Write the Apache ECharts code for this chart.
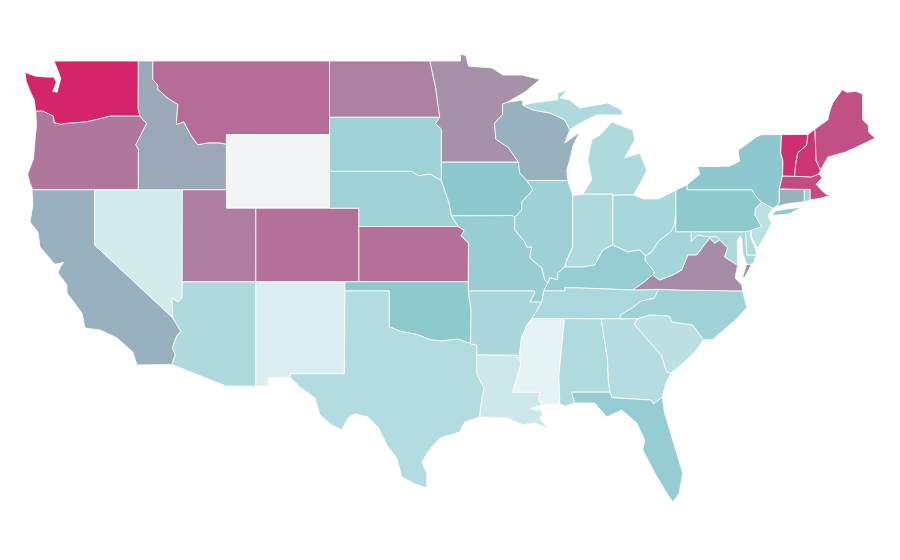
<!DOCTYPE html>
<html><head><meta charset="utf-8">
<style>html,body{margin:0;background:#fff}#c{width:900px;height:560px}</style>
<script src="https://cdn.jsdelivr.net/npm/echarts@6/dist/echarts.min.js"></script>
</head><body><div id="c"></div>
<script>
const stateNames=['Washington','Oregon','California','Nevada','Idaho','Montana','Wyoming','Utah','Arizona','Colorado','New Mexico','North Dakota','South Dakota','Nebraska','Kansas','Oklahoma','Texas','Minnesota','Iowa','Missouri','Arkansas','Louisiana','Wisconsin','Illinois','Mississippi','Michigan','Indiana','Ohio','Kentucky','Tennessee','Alabama','Georgia','Florida','South Carolina','North Carolina','Virginia','West Virginia','Maryland','Delaware','New Jersey','Pennsylvania','New York','Connecticut','Rhode Island','Massachusetts','Vermont','New Hampshire','Maine'];
const stateValues=[98,74,57,20,60,77,0,72,36,76,17,71,42,42,76,49,34,67,50,45,38,23,57,43,12.5,36,36,38.5,46,37.5,35.5,33,46,30,42,68,39.5,37.5,35.5,30,49,50,57,42,87,95,93,85];
const colorStops=['#f3f4f6','#e5f3f4','#c8e6e9','#aad8dc','#8cc8cd','#9fa0b3','#b2739a','#c54880','#d81e63'];
const stateShapes={
Washington:[[[-122.76,49],[-117.03,49],[-117.04,46.42],[-116.92,46],[-118.98,46],[-119.3,45.93],[-120.5,45.7],[-121.2,45.65],[-122,45.6],[-122.3,45.55],[-122.76,45.65],[-122.8,46],[-123.2,46.15],[-123.5,46.27],[-124,46.27],[-124.07,46.7],[-124.1,46.9],[-124.35,47.3],[-124.65,47.9],[-124.73,48.38],[-124,48.17],[-123.1,48.12],[-122.78,48.13],[-122.6,47.85],[-122.85,47.35],[-122.55,47.3],[-122.42,47.7],[-122.3,48.05],[-122.5,48.5]]],
Oregon:[[[-124,46.27],[-123.5,46.27],[-123.2,46.15],[-122.8,46],[-122.76,45.65],[-122.3,45.55],[-122,45.6],[-121.2,45.65],[-120.5,45.7],[-119.3,45.93],[-118.98,46],[-116.92,46],[-116.47,45.6],[-116.85,45],[-117.2,44.45],[-117.03,44.2],[-117.03,42],[-124.21,42],[-124.4,42.4],[-124.55,42.84],[-124.15,43.7],[-124.05,44.7],[-123.95,45.5]]],
California:[[[-124.25,42],[-120,42],[-120,39],[-114.68,35.03],[-114.14,34.3],[-114.43,34.05],[-114.72,33.4],[-114.52,33.03],[-114.75,32.5],[-117.13,32.48],[-117.4,33.18],[-118.48,33.95],[-119.64,34.38],[-120.66,34.49],[-120.86,35.3],[-121.88,36.39],[-121.88,36.83],[-122.49,37.48],[-122.35,37.75],[-122.3,37.85],[-122.1,38.05],[-122.7,37.95],[-123.71,38.89],[-123.85,39.7],[-124.39,40.25],[-124.19,41.17]]],
Nevada:[[[-120,42],[-114.04,42],[-114.05,37],[-114.07,36.12],[-114.34,35.9],[-114.75,36.12],[-114.68,35.03],[-120,39]]],
Idaho:[[[-117.03,49],[-116.05,49],[-116.05,48],[-115.72,47.7],[-115.7,47.45],[-114.95,46.93],[-114.35,46.65],[-114.45,45.55],[-113.95,45.7],[-113.45,44.95],[-113,44.45],[-112.3,44.55],[-111.5,44.55],[-111.05,44.47],[-111.05,42],[-114.04,42],[-117.03,42],[-117.03,44.2],[-117.2,44.45],[-116.85,45],[-116.47,45.6],[-116.92,46],[-117.04,46.42]]],
Montana:[[[-116.05,49],[-104.05,49],[-104.05,45.94],[-104.05,45],[-111.05,45],[-111.05,44.47],[-111.5,44.55],[-112.3,44.55],[-113,44.45],[-113.45,44.95],[-113.95,45.7],[-114.45,45.55],[-114.35,46.65],[-114.95,46.93],[-115.7,47.45],[-115.72,47.7],[-116.05,48]]],
Wyoming:[[[-111.05,45],[-104.05,45],[-104.05,43],[-104.05,41],[-102.05,41],[-109.05,41],[-111.05,41],[-111.05,42],[-111.05,44.47]]],
Utah:[[[-114.04,42],[-111.05,42],[-111.05,41],[-109.05,41],[-109.05,37],[-114.05,37]]],
Arizona:[[[-114.05,37],[-109.05,37],[-109.05,31.33],[-111.07,31.33],[-114.75,32.5],[-114.52,33.03],[-114.72,33.4],[-114.43,34.05],[-114.14,34.3],[-114.68,35.03],[-114.75,36.12],[-114.34,35.9],[-114.07,36.12]]],
Colorado:[[[-109.05,41],[-102.05,41],[-102.05,40],[-102.05,37],[-103,37],[-109.05,37]]],
'New Mexico':[[[-109.05,37],[-103,37],[-103,36.5],[-103.04,32],[-106.7,32],[-106.7,31.78],[-108.21,31.78],[-108.21,31.33],[-109.05,31.33]]],
'North Dakota':[[[-104.05,49],[-97.23,49],[-96.85,47.6],[-96.56,45.94],[-104.05,45.94]]],
'South Dakota':[[[-104.05,45.94],[-96.56,45.94],[-96.85,45.6],[-96.45,45.3],[-96.45,43.5],[-96.45,42.49],[-97.2,42.85],[-98,42.77],[-98.5,43],[-104.05,43],[-104.05,45]]],
Nebraska:[[[-104.05,43],[-98.5,43],[-98,42.77],[-97.2,42.85],[-96.45,42.49],[-96.1,41.7],[-95.9,41.2],[-95.77,40.58],[-95.31,40],[-102.05,40],[-102.05,41],[-104.05,41]]],
Kansas:[[[-102.05,40],[-95.31,40],[-94.9,39.8],[-95.1,39.5],[-94.61,39.1],[-94.62,37],[-102.05,37]]],
Oklahoma:[[[-103,37],[-102.05,37],[-94.62,37],[-94.62,36.5],[-94.43,35.4],[-94.48,33.64],[-95.3,33.88],[-96.5,33.78],[-97.2,33.85],[-98.1,34.13],[-99.2,34.3],[-100,34.56],[-100,36.5],[-103,36.5]]],
Texas:[[[-106.7,32],[-103.04,32],[-103,36.5],[-100,36.5],[-100,34.56],[-99.2,34.3],[-98.1,34.13],[-97.2,33.85],[-96.5,33.78],[-95.3,33.88],[-94.48,33.64],[-94.04,33.55],[-94.04,33.02],[-94.04,31.99],[-93.55,31.2],[-93.75,30.4],[-93.85,29.65],[-94.86,29.38],[-95.2,28.84],[-96.56,28.51],[-97.37,27.75],[-97.78,27.2],[-97.44,26.6],[-97.44,25.79],[-98.25,26.01],[-99.14,26.39],[-99.48,27.42],[-100.15,28.13],[-100.76,29.11],[-101.44,29.65],[-102.33,29.82],[-102.8,29.6],[-103.21,28.95],[-103.89,29.22],[-104.7,29.76],[-105.04,30.68],[-106.06,31.28],[-106.7,31.78]]],
Minnesota:[[[-97.23,49],[-95.15,49],[-95.15,49.38],[-94.8,49.3],[-94.6,48.72],[-93,48.62],[-92.28,48.24],[-90.98,48.24],[-89.75,48],[-90.8,47.3],[-92,46.75],[-92.3,46.65],[-92.29,46.1],[-92.85,45.6],[-92.75,44.75],[-91.9,44.3],[-91.22,43.5],[-96.45,43.5],[-96.45,45.3],[-96.85,45.6],[-96.56,45.94],[-96.85,47.6]]],
Iowa:[[[-96.45,43.5],[-91.22,43.5],[-91.13,42.91],[-90.64,42.5],[-90.24,41.99],[-90.99,41.34],[-90.99,40.9],[-91.46,40.52],[-91.7,40.6],[-95.77,40.58],[-95.9,41.2],[-96.1,41.7],[-96.45,42.49]]],
Missouri:[[[-95.77,40.58],[-91.7,40.6],[-91.46,40.52],[-91.46,39.82],[-90.79,39.16],[-90.65,38.89],[-90.31,38.89],[-90.45,38.3],[-89.63,37.75],[-89.43,37.1],[-89.22,36.93],[-89.5,36.5],[-89.63,35.9],[-90.44,35.9],[-90.1,36.4],[-90.15,36.5],[-94.62,36.5],[-94.62,37],[-94.61,39.1],[-95.1,39.5],[-94.9,39.8],[-95.31,40]]],
Arkansas:[[[-94.62,36.5],[-90.15,36.5],[-90.1,36.4],[-90.44,35.9],[-89.63,35.9],[-90.24,35.03],[-90.3,35],[-90.6,34.7],[-91,34],[-91.15,33],[-94.04,33.02],[-94.04,33.55],[-94.48,33.64],[-94.43,35.4]]],
Louisiana:[[[-94.04,33.02],[-91.15,33],[-91.05,32.5],[-91.6,31],[-89.73,31],[-89.85,30.65],[-89.63,30.3],[-90.45,30.1],[-89.65,30],[-89.57,29.76],[-89.77,29.6],[-89.23,29.05],[-90.1,29.33],[-90.92,29.22],[-92,29.6],[-93.85,29.65],[-93.75,30.4],[-93.55,31.2],[-94.04,31.99]]],
Wisconsin:[[[-92,46.75],[-90.92,46.88],[-90.92,46.6],[-90.24,46.34],[-89.07,46.17],[-88.07,45.8],[-87.73,45.25],[-88.07,44.54],[-87.05,45.14],[-87.5,44.4],[-87.73,43.62],[-87.93,43.08],[-87.87,42.5],[-90.64,42.5],[-91.13,42.91],[-91.22,43.5],[-91.9,44.3],[-92.75,44.75],[-92.85,45.6],[-92.29,46.1],[-92.3,46.65]]],
Illinois:[[[-90.64,42.5],[-87.87,42.5],[-87.53,41.7],[-87.53,38.89],[-87.93,38.18],[-88.07,37.8],[-88.55,37.48],[-88.55,37.1],[-89.09,37.21],[-89.22,36.93],[-89.43,37.1],[-89.63,37.75],[-90.45,38.3],[-90.31,38.89],[-90.65,38.89],[-90.79,39.16],[-91.46,39.82],[-91.46,40.52],[-90.99,40.9],[-90.99,41.34],[-90.24,41.99]]],
Mississippi:[[[-91.15,33],[-91,34],[-90.6,34.7],[-90.3,35],[-88.2,35],[-88.1,34.9],[-88.47,31.9],[-88.4,30.35],[-88.9,30.38],[-89.63,30.3],[-89.85,30.65],[-89.73,31],[-91.6,31],[-91.05,32.5]]],
Michigan:[[[-86.85,41.76],[-84.8,41.76],[-84.8,41.7],[-83.45,41.73],[-83.32,41.83],[-82.9,42.4],[-82.5,43.08],[-82.98,44],[-84,43.73],[-83.32,44.71],[-83.45,45.25],[-84.88,45.68],[-85.35,45.25],[-85.69,44.98],[-86.24,44.71],[-86.51,43.62],[-86.24,42.53]],[[-90.24,46.72],[-89,46.85],[-88.55,46.88],[-88.55,47.26],[-87.87,47.42],[-88.4,46.99],[-87.73,46.88],[-87.05,46.45],[-85.15,46.72],[-84.2,46.34],[-84.13,46.07],[-85.9,46.07],[-86.57,45.8],[-87.25,45.52],[-87.73,45.25],[-88.07,45.8],[-89.07,46.17],[-90.24,46.34],[-90.92,46.6]]],
Indiana:[[[-87.53,41.7],[-86.85,41.76],[-84.8,41.76],[-84.8,41.7],[-84.81,39],[-85.49,38.73],[-86.03,37.91],[-86.85,37.8],[-88.07,37.8],[-87.93,38.18],[-87.53,38.89]]],
Ohio:[[[-84.8,41.7],[-83.45,41.73],[-82.7,41.5],[-81.7,41.5],[-80.52,41.98],[-80.52,40.64],[-80.65,40],[-80.9,39.7],[-81.7,39.2],[-82.2,38.6],[-82.6,38.4],[-82.98,38.73],[-83.8,38.62],[-84.81,39]]],
Kentucky:[[[-89.22,36.93],[-89.09,37.21],[-88.55,37.1],[-88.55,37.48],[-88.07,37.8],[-86.85,37.8],[-86.03,37.91],[-85.49,38.73],[-84.81,39],[-83.8,38.62],[-82.98,38.73],[-82.6,38.4],[-82.6,38.15],[-81.97,37.54],[-82.1,37.37],[-82.77,36.93],[-83.46,36.55],[-86.5,36.65],[-88.07,36.68],[-88.05,36.5],[-89.5,36.5]]],
Tennessee:[[[-89.5,36.5],[-88.05,36.5],[-88.07,36.68],[-86.5,36.65],[-83.46,36.55],[-81.68,36.59],[-82,36.1],[-82.9,35.95],[-83.5,35.57],[-84.3,35.2],[-84.32,34.99],[-85.6,34.98],[-88.2,35],[-90.3,35],[-90.24,35.03],[-89.63,35.9]]],
Alabama:[[[-88.2,35],[-85.6,34.98],[-85.18,32.87],[-85.1,31.55],[-85,31],[-87.6,31],[-87.4,30.41],[-88,30.25],[-88.4,30.35],[-88.47,31.9],[-88.1,34.9]]],
Georgia:[[[-85.6,34.98],[-84.32,34.99],[-83.1,35],[-83.35,34.7],[-82.55,33.95],[-81.5,33],[-81.15,32.1],[-80.85,32.05],[-81.2,31.5],[-81.45,30.72],[-82.05,30.36],[-82.2,30.57],[-84.86,30.7],[-85,31],[-85.1,31.55],[-85.18,32.87]]],
Florida:[[[-87.6,31],[-85,31],[-84.86,30.7],[-82.2,30.57],[-82.05,30.36],[-81.45,30.72],[-81.3,29.9],[-80.74,28.4],[-80.06,26.6],[-80.3,25.5],[-80.73,25.03],[-81.14,25.5],[-81.96,26.61],[-82.77,27.86],[-82.64,28.4],[-83.18,29.33],[-84.2,30.03],[-85.22,29.65],[-86.04,30.41],[-87.4,30.41]]],
'South Carolina':[[[-83.1,35],[-82.3,35.2],[-81.05,35.15],[-80.93,35.1],[-80.8,34.82],[-79.38,34.65],[-78.65,33.86],[-79.2,33.2],[-80,32.6],[-80.85,32.05],[-81.15,32.1],[-81.5,33],[-82.55,33.95],[-83.35,34.7]]],
'North Carolina':[[[-84.32,34.99],[-84.3,35.2],[-83.5,35.57],[-82.9,35.95],[-82,36.1],[-81.68,36.59],[-80.3,36.55],[-75.99,36.5],[-75.7,35.6],[-76.5,34.9],[-76.9,34.65],[-78,33.87],[-78.65,33.86],[-79.38,34.65],[-80.8,34.82],[-80.93,35.1],[-81.05,35.15],[-82.3,35.2],[-83.1,35]]],
Virginia:[[[-83.46,36.55],[-81.68,36.59],[-80.3,36.55],[-75.99,36.5],[-76.05,36.83],[-76.5,37.2],[-76.33,37.9],[-77.21,38.35],[-77,38.84],[-77.55,39.27],[-77.89,39.1],[-78.23,39.38],[-79.11,38.46],[-79.72,38.46],[-80.13,37.64],[-80.74,37.37],[-81.62,37.1],[-82.1,37.37],[-82.77,36.93]],[[-75.38,37.95],[-75.72,37.95],[-76,37.2],[-75.85,37.25]]],
'West Virginia':[[[-80.52,40.64],[-80.52,39.72],[-79.48,39.72],[-79.48,39.2],[-79.04,39.54],[-78.36,39.45],[-77.75,39.45],[-77.55,39.27],[-77.89,39.1],[-78.23,39.38],[-79.11,38.46],[-79.72,38.46],[-80.13,37.64],[-80.74,37.37],[-81.62,37.1],[-82.1,37.37],[-81.97,37.54],[-82.6,38.15],[-82.6,38.4],[-82.2,38.6],[-81.7,39.2],[-80.9,39.7],[-80.65,40]]],
Maryland:[[[-79.48,39.72],[-75.79,39.72],[-75.7,38.46],[-75.05,38.45],[-75.25,38.03],[-75.38,37.95],[-75.72,37.95],[-76,38.6],[-76.05,39.3],[-76.15,39.5],[-76.35,39.2],[-76.35,38.5],[-76.33,37.9],[-77.21,38.35],[-77,38.84],[-77.55,39.27],[-77.75,39.45],[-78.36,39.45],[-79.04,39.54],[-79.48,39.2]]],
Delaware:[[[-75.79,39.72],[-75.4,39.8],[-75.5,39.5],[-75.1,38.8],[-75.05,38.45],[-75.7,38.46]]],
'New Jersey':[[[-74.7,41.33],[-73.95,41],[-74.25,40.6],[-74.02,40.2],[-74.36,39.65],[-74.97,38.8],[-75.38,39.43],[-75.4,39.8],[-74.7,40],[-75.17,40.63],[-75.13,40.98]]],
Pennsylvania:[[[-80.52,41.98],[-79.76,42.27],[-79.76,42],[-75.35,42],[-75.05,41.6],[-74.7,41.33],[-75.13,40.98],[-75.17,40.63],[-74.7,40],[-75.4,39.8],[-75.79,39.72],[-79.48,39.72],[-80.52,39.72],[-80.52,40.64]]],
'New York':[[[-79.76,42.27],[-78.9,42.85],[-79.05,43.27],[-77.5,43.27],[-76.85,43.29],[-76.2,43.55],[-76.3,44.15],[-75.05,44.87],[-74.7,45],[-73.35,45],[-73.4,44],[-73.25,43.55],[-73.28,42.75],[-73.5,42.05],[-73.5,41.3],[-73.7,41.1],[-73.95,41],[-74.7,41.33],[-75.05,41.6],[-75.35,42],[-79.76,42]],[[-74,40.6],[-73.75,40.85],[-73,40.95],[-72,41.05],[-72.8,40.7]]],
Connecticut:[[[-73.5,42.05],[-71.8,42.02],[-71.8,41.35],[-72.9,41.25],[-73.7,41.1],[-73.5,41.3]]],
'Rhode Island':[[[-71.8,42.02],[-71.4,42.02],[-71.4,41.45],[-71.8,41.35]]],
Massachusetts:[[[-73.5,42.05],[-73.28,42.75],[-72.46,42.73],[-71.3,42.7],[-70.8,42.87],[-70.6,42.65],[-71,42.3],[-70.6,41.95],[-70.3,41.75],[-70,41.7],[-70.65,41.55],[-71.4,41.45],[-71.4,42.02],[-71.8,42.02]]],
Vermont:[[[-73.35,45],[-71.55,45.01],[-71.64,44.43],[-72.25,44],[-72.4,43.3],[-72.46,42.73],[-73.28,42.75],[-73.25,43.55],[-73.4,44]]],
'New Hampshire':[[[-71.55,45.01],[-71.08,45.3],[-71,43.6],[-70.7,43.07],[-70.8,42.87],[-71.3,42.7],[-72.46,42.73],[-72.4,43.3],[-72.25,44],[-71.64,44.43]]],
Maine:[[[-71.08,45.3],[-70.2,45.8],[-70.1,46.2],[-69.87,46.72],[-69.23,47.44],[-68.9,47.3],[-68.3,47.35],[-67.84,47.2],[-67.84,45.8],[-67.45,45.5],[-67.45,45.15],[-67,44.8],[-68.25,44.33],[-69,44.05],[-70.2,43.78],[-70.7,43.07],[-71,43.6]]]
};
const features=stateNames.map(n=>({type:'Feature',properties:{name:n},geometry:{type:'MultiPolygon',coordinates:stateShapes[n].map(r=>[r.concat([r[0]])])}}));
echarts.registerMap('USA',{type:'FeatureCollection',features});
const chart=echarts.init(document.getElementById('c'),null,{renderer:'canvas'});
chart.setOption({
  animation:false,backgroundColor:'#fff',
  visualMap:{show:false,min:0,max:100,inRange:{color:colorStops},calculable:false},
  series:[{type:'map',map:'USA',aspectScale:0.8,left:25,right:25,top:54,bottom:58,roam:false,silent:true,
    label:{show:false},emphasis:{disabled:true},select:{disabled:true},
    itemStyle:{borderColor:'#fff',borderWidth:0.8},
    data:stateNames.map((n,i)=>({name:n,value:stateValues[i]}))}]
});
</script></body></html>
